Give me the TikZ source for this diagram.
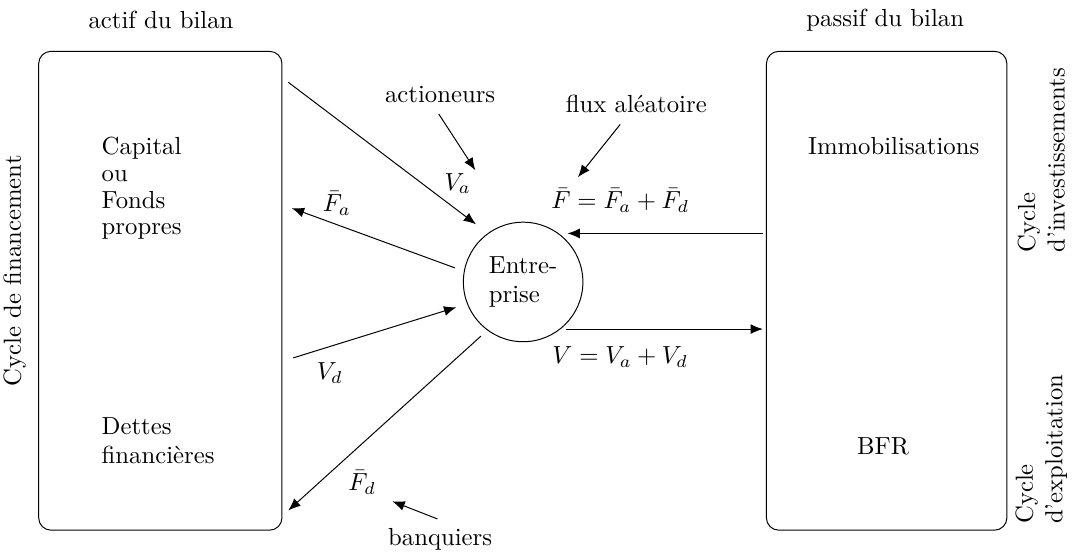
\documentclass[tikz,border=0pt]{standalone}
\usepackage{fontspec}
\usetikzlibrary{arrows.meta}
\begin{document}
\begin{tikzpicture}[
			>={Latex[length=5pt,width=4pt]},
			bilan box/.style={draw, rounded corners=5pt, minimum height=6.81cm},
			flow line/.style={->},
			poste node/.style={align=left, inner sep=0pt, anchor=west},
			cycle node/.style={rotate=90, align=left}
			]
			\useasboundingbox (0,0) rectangle (15.36,7.84);
			% les deux cotes du bilan
			\node[bilan box, minimum width=3.46cm] (Actif) at (2.28,3.705) {};
			\node[bilan box, minimum width=3.42cm] (Passif) at (12.61,3.705) {};
			\node (ActifTitle) at (2.29,7.55) {actif du bilan};
			\node (PassifTitle) at (12.59,7.55) {passif du bilan};
			
			\node[cycle node] (CycFin) at (0.21,3.99) {Cycle de financement};
			\node[cycle node] (CycInv) at (14.81,5.56) {Cycle\\d'investissements};
			\node[cycle node] (CycExp) at (14.81,1.45) {Cycle\\d'exploitation};
			
			\node[poste node, font=\fontsize{10}{10.8}\selectfont] (Capital) at (1.44,5.16) {Capital\\ou\\Fonds\\propres};
			\node[poste node] (Dettes) at (1.44,1.57) {Dettes\\financières};
			\node (Immo) at (12.71,5.76) {Immobilisations};
			\node (BFR) at (12.56,1.49) {BFR};
			
			\node[draw, circle, minimum size=1.7cm, inner sep=0pt, align=left] (Ent) at (7.44,3.83) {Entre-\\prise};
			
			% acteurs
			\node (Actio) at (6.26,6.50) {actioneurs};
			\node (Banq) at (6.26,0.17) {banquiers};
			\node (Flux) at (9.05,6.36) {flux aléatoire};
			
			\coordinate (VaStart) at (4.10,6.67);
			\coordinate (VaEnd) at (6.77,4.65);
			\coordinate (FaStart) at (6.47,4.03);
			\coordinate (FaEnd) at (4.15,4.88);
			\coordinate (VdStart) at (4.17,2.75);
			\coordinate (VdEnd) at (6.49,3.47);
			\coordinate (FdStart) at (6.84,3.06);
			\coordinate (FdEnd) at (4.10,0.58);
			\coordinate (FStart) at (10.85,4.52);
			\coordinate (FEnd) at (8.07,4.52);
			\coordinate (VStart) at (8.05,3.16);
			\coordinate (VEnd) at (10.85,3.16);
			
			\draw[flow line] (VaStart) -- (VaEnd);
			\draw[flow line] (FaStart) -- (FaEnd);
			\draw[flow line] (VdStart) -- (VdEnd);
			\draw[flow line] (FdStart) -- (FdEnd);
			\draw[flow line] (FStart) -- (FEnd);
			\draw[flow line] (VStart) -- (VEnd);
			
			\node (VaLabel) at (6.51,5.23) {$V_a$};
			\node (FaLabel) at (4.79,4.95) {$\bar{F}_a$};
			\node (VdLabel) at (4.69,2.53) {$V_d$};
			\node (FdLabel) at (5.15,0.98) {$\bar{F}_d$};
			\node (FLabel) at (8.82,4.99) {$\bar{F} = \bar{F}_a + \bar{F}_d$};
			\node (VLabel) at (8.82,2.76) {$V = V_a + V_d$};
			
			\coordinate (ActioTip) at (6.76,5.42);
			\coordinate (BanqTip) at (5.58,0.71);
			\coordinate (FluxTip) at (8.22,5.32);
			\draw[flow line] (Actio.south) ++(-0.02,-0.04) -- (ActioTip);
			\draw[flow line] (Banq.north) ++(-0.04,0.01) -- (BanqTip);
			\draw[flow line] (Flux.south) ++(-0.23,-0.04) -- (FluxTip);
		\end{tikzpicture}
\end{document}
